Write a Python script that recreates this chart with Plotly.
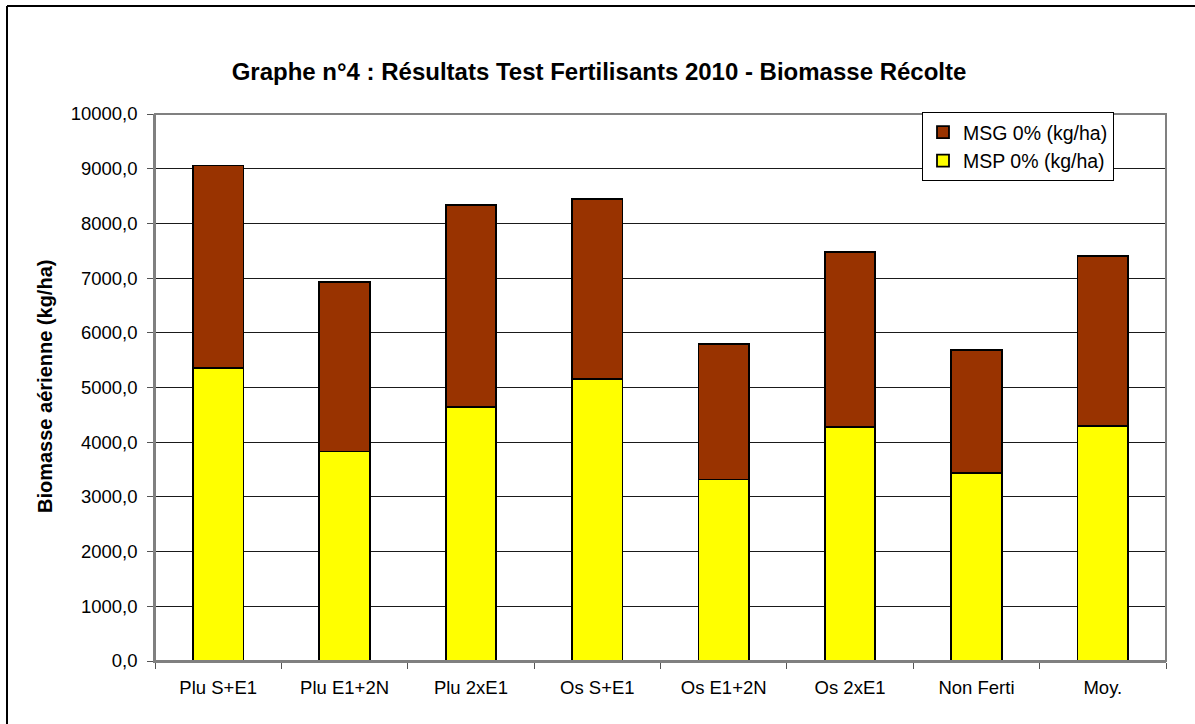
import plotly.graph_objects as go

categories = ["Plu S+E1", "Plu E1+2N", "Plu 2xE1", "Os S+E1", "Os E1+2N", "Os 2xE1", "Non Ferti", "Moy."]
msp = [5360, 3830, 4650, 5150, 3320, 4285, 3430, 4290]
msg = [3700, 3100, 3690, 3300, 2480, 3195, 2255, 3110]
y_ticks = [0, 1000, 2000, 3000, 4000, 5000, 6000, 7000, 8000, 9000, 10000]

W, H = 1195, 724
L, R, T, B = 155, 1166, 114, 661  # plot area in reference pixel coords


def px(x):
    return (x - L) / (R - L)


def py(y):
    return (B - y) / (B - T)


FONT = "Liberation Sans, Arial, sans-serif"

fig = go.Figure()
fig.add_trace(go.Bar(
    name="MSP 0% (kg/ha)", x=categories, y=msp,
    marker=dict(color="#FFFF00", line=dict(color="#000000", width=1.8)),
))
fig.add_trace(go.Bar(
    name="MSG 0% (kg/ha)", x=categories, y=msg,
    marker=dict(color="#993300", line=dict(color="#000000", width=1.8)),
))

fig.update_layout(
    barmode="stack",
    bargap=0.6,
    width=W, height=H,
    margin=dict(l=L, r=W - R, t=T, b=H - B, autoexpand=False),
    paper_bgcolor="white",
    plot_bgcolor="white",
    separators=", ",
    font=dict(family=FONT, size=18.5, color="#000000"),
    title=dict(
        text="<b>Graphe n°4 : Résultats Test Fertilisants 2010 - Biomasse Récolte</b>",
        x=px(599), xanchor="center", xref="paper",
        y=1 - 72 / H, yanchor="middle",
        font=dict(size=24, family=FONT),
    ),
    legend=dict(
        traceorder="reversed",
        x=px(1114), xanchor="right", y=py(112), yanchor="top",
        bgcolor="white", bordercolor="#000000", borderwidth=1,
        font=dict(size=19.5),
        itemwidth=30,
        tracegroupgap=0,
    ),
    showlegend=True,
)

fig.update_yaxes(
    range=[0, 10000],
    tickvals=y_ticks,
    tickformat=".1f",
    showgrid=True, gridcolor="#1a1a1a", gridwidth=1,
    ticks="outside", ticklen=6, tickcolor="#555555",
    ticklabelstandoff=6,
    showline=True, linecolor="#808080", linewidth=1.5,
    zeroline=False,
    tickfont=dict(size=18.5),
)
fig.update_xaxes(
    tickson="boundaries",
    ticks="outside", ticklen=6, tickcolor="#555555",
    ticklabelstandoff=9,
    showline=True, linecolor="#808080", linewidth=1.5,
    tickfont=dict(size=18.5),
)

fig.add_annotation(
    text="<b>Biomasse aérienne (kg/ha)</b>",
    xref="paper", yref="paper", x=px(45), y=py(387),
    xanchor="center", yanchor="middle", textangle=-90,
    showarrow=False, font=dict(size=20),
)

# plot area border (gray)
fig.add_shape(type="rect", xref="paper", yref="paper", x0=0, y0=0, x1=1, y1=1,
              line=dict(color="#808080", width=2), layer="above")
# outer chart border (left and top visible)
fig.add_shape(type="line", xref="paper", yref="paper",
              x0=px(7), y0=py(6), x1=px(1210), y1=py(6),
              line=dict(color="#000000", width=2))
fig.add_shape(type="line", xref="paper", yref="paper",
              x0=px(7), y0=py(6), x1=px(7), y1=py(740),
              line=dict(color="#000000", width=2))

fig.write_html(
    "out.html",
    config={"displayModeBar": False},
    post_script="document.body.style.margin='0px';document.body.style.padding='0px';",
)
